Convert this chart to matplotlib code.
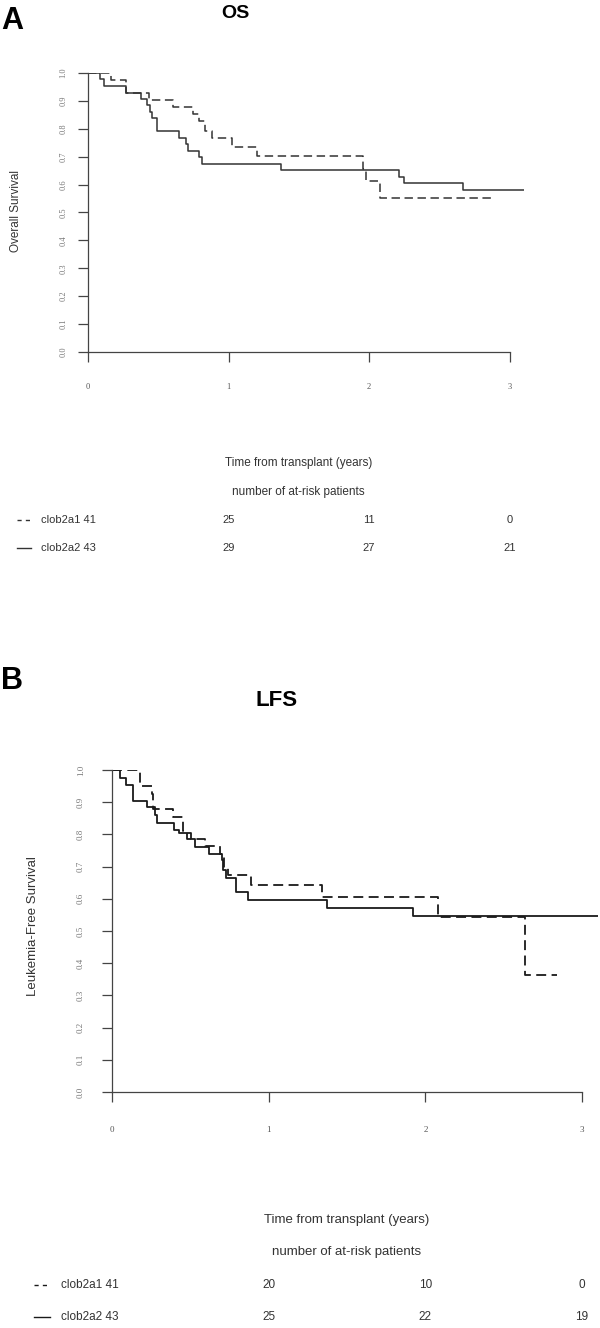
import matplotlib
matplotlib.use('Agg')
import matplotlib.pyplot as plt
import matplotlib.transforms as mtrans
from matplotlib.lines import Line2D
import numpy as np

plt.rc('font', family='Liberation Sans')

# ---- data ----
# OS (panel A)
os_t1   = [0, 0.164, 0.273, 0.436, 0.605, 0.75, 0.79, 0.83, 0.886, 1.028, 1.2, 1.958, 1.976, 2.08]
os_s1   = [1.0, 0.976, 0.927, 0.902, 0.878, 0.853, 0.829, 0.793, 0.768, 0.735, 0.701, 0.655, 0.614, 0.552]
os_end1 = 2.89
os_t2   = [0, 0.087, 0.115, 0.273, 0.376, 0.417, 0.44, 0.458, 0.491, 0.646, 0.695, 0.714, 0.791, 0.81, 1.377, 2.217, 2.25, 2.67]
os_s2   = [1.0, 0.977, 0.953, 0.930, 0.907, 0.884, 0.860, 0.837, 0.791, 0.767, 0.744, 0.721, 0.698, 0.674, 0.651, 0.627, 0.604, 0.580]
os_end2 = 3.10

# LFS (panel B)
lfs_t1   = [0, 0.176, 0.254, 0.262, 0.389, 0.45, 0.48, 0.592, 0.69, 0.714, 0.738, 0.885, 1.337, 2.083, 2.633]
lfs_s1   = [1.0, 0.951, 0.927, 0.878, 0.853, 0.81, 0.785, 0.765, 0.74, 0.70, 0.675, 0.644, 0.607, 0.542, 0.362]
lfs_end1 = 2.84
lfs_t2   = [0, 0.054, 0.09, 0.134, 0.225, 0.274, 0.286, 0.396, 0.428, 0.506, 0.53, 0.616, 0.70, 0.709, 0.726, 0.792, 0.868, 1.374, 1.924]
lfs_s2   = [1.0, 0.976, 0.952, 0.905, 0.885, 0.86, 0.836, 0.815, 0.805, 0.785, 0.762, 0.74, 0.72, 0.69, 0.665, 0.62, 0.596, 0.572, 0.547]
lfs_end2 = 3.10

groups     = ['clob2a1 41', 'clob2a2 43']
risk_times = [1, 2, 3]
os_risk    = [[25, 11, 0], [29, 27, 21]]
lfs_risk   = [[20, 10, 0], [25, 22, 19]]

W, H = 600, 1328
fig = plt.figure(figsize=(W / 100, H / 100), dpi=100)

def fx(px):
    return px / W

def fy(py):
    return 1 - py / H


def panel(letter, title, ylabel, x0, y0, y1, year_px, xmax, curves, risk,
          sz, col, lw, ticklen, ypad, xpad, pos):
    ax = fig.add_axes([fx(x0), fy(y0), year_px * xmax / W, (y0 - y1) / H])
    for t, s, end, ls in curves:
        tt = np.append(t, end)
        ss = np.append(s, s[-1])
        line, = ax.step(tt, ss, where='post', color=col, lw=lw, solid_capstyle='butt')
        if ls == 'dash':
            line.set_dashes((5.5, 3.0))
    ax.set_xlim(0, xmax)
    ax.set_ylim(0, 1)
    for sp in ['top', 'right']:
        ax.spines[sp].set_visible(False)
    ax.spines['left'].set_bounds(0, 1)
    ax.spines['bottom'].set_bounds(0, 3)
    for sp in ['left', 'bottom']:
        ax.spines[sp].set_color('#444444')
        ax.spines[sp].set_linewidth(0.9)
    ax.set_xticks([0, 1, 2, 3])
    ax.set_xticklabels(['0', '1', '2', '3'], family='Liberation Serif')
    yt = np.round(np.arange(0, 1.01, 0.1), 1)
    ax.set_yticks(yt)
    ax.set_yticklabels(['%.1f' % v for v in yt], rotation=90, va='center',
                       family='Liberation Serif')
    ax.tick_params(axis='y', length=ticklen, width=0.9, color='#444444',
                   pad=ypad, labelsize=sz['tick'], labelcolor='#777777')
    ax.tick_params(axis='x', length=ticklen, width=0.9, color='#444444',
                   pad=xpad, labelsize=sz['tick'], labelcolor='#555555')

    fig.text(fx(pos['letter'][0]), fy(pos['letter'][1]), letter, fontsize=sz['letter'],
             fontweight='bold', ha='left', va='top', color='black')
    fig.text(fx(pos['title'][0]), fy(pos['title'][1]), title, fontsize=sz['title'],
             fontweight='bold', ha='center', va='center', color='black')
    fig.text(fx(pos['ylabel'][0]), fy(pos['ylabel'][1]), ylabel, fontsize=sz['label'],
             rotation=90, ha='center', va='center', color='#333333')

    tr = mtrans.blended_transform_factory(ax.transData, fig.transFigure)
    ax.text(1.5, fy(pos['xlabel']), 'Time from transplant (years)', transform=tr,
            ha='center', va='center', fontsize=sz['label'], color='#333333')
    ax.text(1.5, fy(pos['nrisk']), 'number of at-risk patients', transform=tr,
            ha='center', va='center', fontsize=sz['label'], color='#333333')

    styles = ['dash', 'solid']
    for i, g in enumerate(groups):
        yy = fy(pos['rows'][i])
        lx0, lx1 = pos['key']
        ln = Line2D([fx(lx0), fx(lx1)], [yy, yy], transform=fig.transFigure,
                    color=col, lw=1.0)
        if styles[i] == 'dash':
            ln.set_dashes((3.0, 3.0))
        fig.add_artist(ln)
        fig.text(fx(pos['glabel']), yy, g, fontsize=sz['risk'], ha='left',
                 va='center', color='#333333')
        for t, n in zip(risk_times, risk[i]):
            ax.text(t, yy, str(n), transform=tr, ha='center', va='center',
                    fontsize=sz['risk'], color='#333333')
    return ax


panel('A', 'OS', 'Overall Survival', 88, 352, 73, 140.5, 3.2,
      [(os_t1, os_s1, os_end1, 'dash'), (os_t2, os_s2, os_end2, 'solid')],
      os_risk,
      {'tick': 6, 'letter': 22, 'title': 14, 'label': 8.5, 'risk': 8},
      '#333333', 1.1, 7, 8, 15,
      {'letter': (1, 6), 'title': (235, 13), 'ylabel': (16, 211),
       'xlabel': 463, 'nrisk': 492, 'rows': [520, 548], 'key': (17, 31),
       'glabel': 41})

panel('B', 'LFS', 'Leukemia-Free Survival', 112, 1092, 770, 156.7, 3.11,
      [(lfs_t1, lfs_s1, lfs_end1, 'dash'), (lfs_t2, lfs_s2, lfs_end2, 'solid')],
      lfs_risk,
      {'tick': 6.5, 'letter': 22, 'title': 16, 'label': 9.5, 'risk': 8.5},
      '#1a1a1a', 1.3, 7.5, 12, 17,
      {'letter': (1, 666), 'title': (277, 700), 'ylabel': (33, 926),
       'xlabel': 1220, 'nrisk': 1252, 'rows': [1285, 1317], 'key': (34, 50),
       'glabel': 61})

plt.savefig('out.png', dpi=100)
plt.close()
